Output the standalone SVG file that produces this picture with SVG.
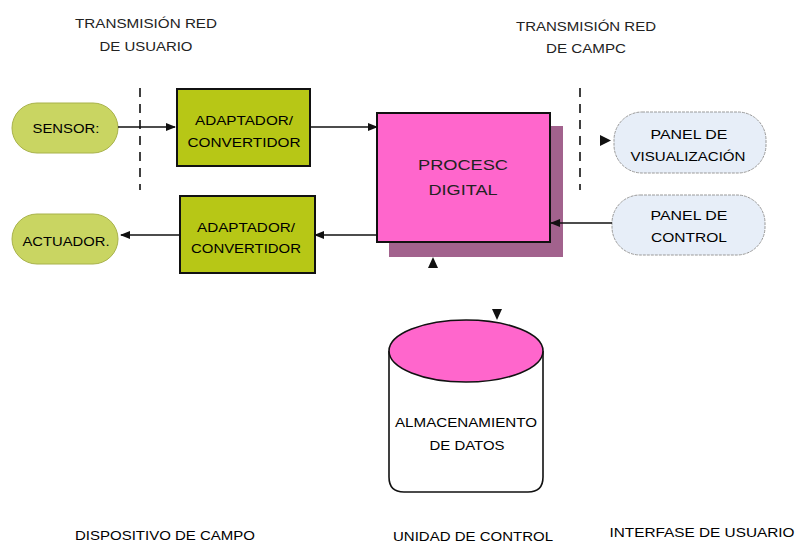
<svg xmlns="http://www.w3.org/2000/svg" width="797" height="544" viewBox="0 0 797 544">
<defs>
<style>
text{font-family:"Liberation Sans",Arial,sans-serif;font-size:13px;fill:#000;text-anchor:middle}
.lbl{fill:#222}
.big{font-size:15px;fill:#222}
.pill{fill:#c9d562;stroke:#a8b24a;stroke-width:1}
.adapt{fill:#b7c716;stroke:#111;stroke-width:2}
.panel{fill:#e7eef8;stroke:#9a9a9a;stroke-width:1;stroke-dasharray:3 1}
.conn{stroke:#111;stroke-width:1.6;fill:none}
.dash{stroke:#111;stroke-width:1.6;stroke-dasharray:9 7;fill:none}
.head{fill:#111}
</style>
<marker id="arr" markerWidth="10" markerHeight="8" refX="9" refY="4" orient="auto" markerUnits="userSpaceOnUse">
<path d="M0,0 L10,4 L0,8 Z" fill="#111"/>
</marker>
</defs>
<rect width="797" height="544" fill="#fff"/>

<g id="labels">
<text class="lbl" x="146" y="28" textLength="142" lengthAdjust="spacingAndGlyphs">TRANSMISIÓN RED</text>
<text class="lbl" x="146" y="51" textLength="93" lengthAdjust="spacingAndGlyphs">DE USUARIO</text>
<text class="lbl" x="586" y="31" textLength="140" lengthAdjust="spacingAndGlyphs">TRANSMISIÓN RED</text>
<text class="lbl" x="586" y="53" textLength="80" lengthAdjust="spacingAndGlyphs">DE CAMPC</text>
<text x="165" y="540" textLength="180" lengthAdjust="spacingAndGlyphs">DISPOSITIVO DE CAMPO</text>
<text x="473" y="541" textLength="160" lengthAdjust="spacingAndGlyphs">UNIDAD DE CONTROL</text>
<text x="702" y="537" textLength="185" lengthAdjust="spacingAndGlyphs">INTERFASE DE USUARIO</text>
</g>

<g id="dividers">
<line class="dash" x1="140" y1="88" x2="140" y2="190"/>
<line class="dash" x1="580" y1="88" x2="580" y2="190"/>
</g>

<g id="sensor">
<rect class="pill" x="12" y="103" width="106" height="50" rx="25"/>
<text x="66" y="133" textLength="67" lengthAdjust="spacingAndGlyphs">SENSOR:</text>
</g>

<g id="actuador">
<rect class="pill" x="12" y="214" width="106" height="50" rx="25"/>
<text x="66" y="246" textLength="87" lengthAdjust="spacingAndGlyphs">ACTUADOR.</text>
</g>

<g id="adaptador1">
<rect class="adapt" x="177" y="89" width="133" height="77"/>
<text x="244" y="125" textLength="98" lengthAdjust="spacingAndGlyphs">ADAPTADOR/</text>
<text x="244" y="147" textLength="113" lengthAdjust="spacingAndGlyphs">CONVERTIDOR</text>
</g>

<g id="adaptador2">
<rect class="adapt" x="180" y="196" width="135" height="77"/>
<text x="246" y="232" textLength="98" lengthAdjust="spacingAndGlyphs">ADAPTADOR/</text>
<text x="246" y="253" textLength="110" lengthAdjust="spacingAndGlyphs">CONVERTIDOR</text>
</g>

<g id="procesador">
<rect x="389" y="126" width="174" height="131" fill="#a2628d"/>
<rect x="377" y="113" width="173" height="129" fill="#ff66cc" stroke="#111" stroke-width="2"/>
<text class="big" x="463" y="170" textLength="90" lengthAdjust="spacingAndGlyphs">PROCESC</text>
<text class="big" x="463" y="195" textLength="69" lengthAdjust="spacingAndGlyphs">DIGITAL</text>
</g>

<g id="panel-visualizacion">
<rect class="panel" x="614" y="112" width="152" height="61" rx="28"/>
<text x="689" y="139" textLength="77" lengthAdjust="spacingAndGlyphs">PANEL DE</text>
<text x="688" y="161" textLength="115" lengthAdjust="spacingAndGlyphs">VISUALIZACIÓN</text>
</g>

<g id="panel-control">
<rect class="panel" x="612" y="195" width="153" height="60" rx="28"/>
<text x="689" y="220" textLength="77" lengthAdjust="spacingAndGlyphs">PANEL DE</text>
<text x="689" y="242" textLength="76" lengthAdjust="spacingAndGlyphs">CONTROL</text>
</g>

<g id="almacenamiento">
<path d="M389,351 L389,477 Q389,492 404,492 L528,492 Q543,492 543,477 L543,351" fill="#fff" stroke="#111" stroke-width="1.6"/>
<ellipse cx="466" cy="351" rx="77" ry="31" fill="#ff66cc" stroke="#111" stroke-width="1.6"/>
<text x="466" y="427" textLength="142" lengthAdjust="spacingAndGlyphs">ALMACENAMIENTO</text>
<text x="467" y="450" textLength="75" lengthAdjust="spacingAndGlyphs">DE DATOS</text>
</g>

<g id="connectors">
<line class="conn" x1="118" y1="127" x2="175" y2="127" marker-end="url(#arr)"/>
<line class="conn" x1="310" y1="127" x2="377" y2="127" marker-end="url(#arr)"/>
<line class="conn" x1="377" y1="235" x2="315" y2="235" marker-end="url(#arr)"/>
<line class="conn" x1="180" y1="235" x2="121" y2="235" marker-end="url(#arr)"/>
<line class="conn" x1="612" y1="223" x2="551" y2="223" marker-end="url(#arr)"/>
<path class="head" d="M600,135 L611,140.5 L600,146 Z"/>
<path class="head" d="M428,268 L433,257 L438,268 Z"/>
<path class="head" d="M492,309 L502,309 L497,320 Z"/>
</g>
</svg>
